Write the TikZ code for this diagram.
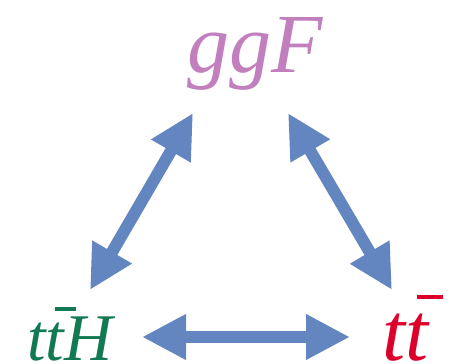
\documentclass[tikz,border=0pt]{standalone}
\usepackage{fontspec}
\newfontfamily\timesit{Liberation Serif Italic}
\usetikzlibrary{arrows.meta}
\definecolor{arrowblue}{RGB}{99,133,192}
\definecolor{ggfpink}{RGB}{194,127,190}
\definecolor{tthgreen}{RGB}{18,122,82}
\definecolor{ttred}{RGB}{221,0,42}
\newcommand\mytbar{\leavevmode\rlap{\kern0.14em\raisebox{0.74em}{\rule{0.32em}{0.05em}}}t}
\tikzset{
  dblarrow/.style={draw=arrowblue, line width=9pt,
    {Triangle[length=33pt,width=32pt]}-{Triangle[length=33pt,width=32pt]}, arrowblue},
  lbl/.style={inner sep=0pt, anchor=base west}
}
\begin{document}
\begin{tikzpicture}[x=0.75pt,y=-0.75pt]
\useasboundingbox (0,0) rectangle (457,364);
\node[lbl, text=ggfpink, font=\timesit\fontsize{63}{63}\selectfont] (ggf) at (187,72) {ggF};
\node[lbl, text=tthgreen, font=\timesit\fontsize{50}{50}\selectfont] (tth) at (27,360) {t\mytbar H};
\node[lbl, text=ttred, font=\timesit\fontsize{62}{62}\selectfont] (tt) at (382,360) {t\mytbar};
\coordinate (aLtop) at (193,113);
\coordinate (aLbot) at (90,290);
\coordinate (aRtop) at (288,113);
\coordinate (aRbot) at (392,290);
\coordinate (aHl) at (142,337);
\coordinate (aHr) at (350,337);
\draw[dblarrow] (aLtop) -- (aLbot);
\draw[dblarrow] (aRtop) -- (aRbot);
\draw[dblarrow] (aHl) -- (aHr);
\end{tikzpicture}
\end{document}
